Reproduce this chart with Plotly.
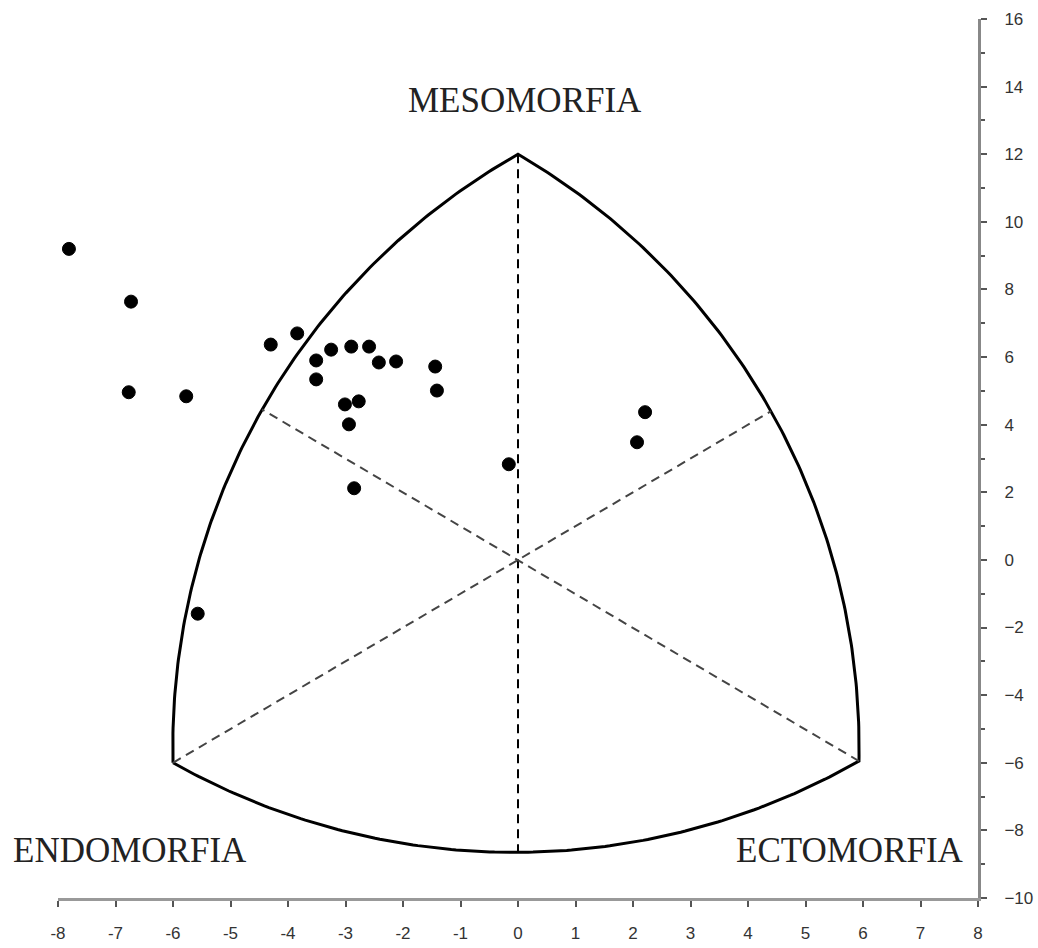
import numpy as np
import plotly.graph_objects as go

# ---- data (somatotype points: X = ecto - endo, Y = 2*meso - (endo + ecto)) ----
x_vals = [-7.81, -6.73, -6.77, -5.77, -4.30, -3.84, -3.51, -3.51, -3.25, -2.90,
          -2.59, -2.42, -2.12, -3.01, -2.77, -2.94, -2.85, -1.44, -1.41, -0.16,
          2.07, 2.21, -5.57]
y_vals = [9.20, 7.64, 4.96, 4.84, 6.37, 6.70, 5.90, 5.34, 6.22, 6.31,
          6.31, 5.84, 5.87, 4.60, 4.69, 4.01, 2.12, 5.72, 5.01, 2.83,
          3.48, 4.37, -1.59]

x_ticks = list(range(-8, 9))
y_ticks = list(range(-10, 17, 2))

# ---- somatochart frame ----
MESO = (0.0, 12.0)
ENDO = (-6.0, -6.0)
ECTO = (5.93, -5.95)
LEFT_MID = (-4.45, 4.45)
RIGHT_MID = (4.4, 4.4)
BOTTOM_MID = (0.0, -8.65)
labels = ["MESOMORFIA", "ENDOMORFIA", "ECTOMORFIA"]
label_pos = [(0.12, 13.6), (-6.75, -8.6), (5.77, -8.6)]

SX, SY = 57.5, 33.8  # px per unit (aspect used for circular arcs)


def arc(p0, pm, p1, n=150):
    P = np.array([p0, pm, p1], float) * [SX, SY]
    (x1, y1), (x2, y2), (x3, y3) = P
    d = 2 * (x1 * (y2 - y3) + x2 * (y3 - y1) + x3 * (y1 - y2))
    ux = ((x1**2 + y1**2) * (y2 - y3) + (x2**2 + y2**2) * (y3 - y1) + (x3**2 + y3**2) * (y1 - y2)) / d
    uy = ((x1**2 + y1**2) * (x3 - x2) + (x2**2 + y2**2) * (x1 - x3) + (x3**2 + y3**2) * (x2 - x1)) / d
    r = np.hypot(x1 - ux, y1 - uy)
    a0 = np.arctan2(y1 - uy, x1 - ux)
    am = np.arctan2(y2 - uy, x2 - ux)
    a1 = np.arctan2(y3 - uy, x3 - ux)
    am = a0 + (am - a0) % (2 * np.pi)
    a1 = a0 + (a1 - a0) % (2 * np.pi)
    if am > a1:
        a1 -= 2 * np.pi
    t = np.linspace(a0, a1, n)
    return (ux + r * np.cos(t)) / SX, (uy + r * np.sin(t)) / SY


lx, ly = arc(ENDO, LEFT_MID, MESO)
rx, ry = arc(MESO, RIGHT_MID, ECTO)
bx, by = arc(ECTO, BOTTOM_MID, ENDO)
fx = np.concatenate([lx, rx, bx])
fy = np.concatenate([ly, ry, by])

fig = go.Figure()

fig.add_trace(go.Scatter(x=fx, y=fy, mode="lines",
                         line=dict(color="black", width=3), hoverinfo="skip",
                         showlegend=False))
# dashed axes of the somatochart
fig.add_trace(go.Scatter(x=[MESO[0], BOTTOM_MID[0]], y=[MESO[1], BOTTOM_MID[1]], mode="lines",
                         line=dict(color="black", width=2, dash="9px,6px"),
                         hoverinfo="skip", showlegend=False))
fig.add_trace(go.Scatter(x=[ENDO[0], RIGHT_MID[0]], y=[ENDO[1], RIGHT_MID[1]], mode="lines",
                         line=dict(color="#444444", width=2, dash="9px,6px"),
                         hoverinfo="skip", showlegend=False))
fig.add_trace(go.Scatter(x=[ECTO[0], LEFT_MID[0]], y=[ECTO[1], LEFT_MID[1]], mode="lines",
                         line=dict(color="#444444", width=2, dash="9px,6px"),
                         hoverinfo="skip", showlegend=False))

fig.add_trace(go.Scatter(x=x_vals, y=y_vals, mode="markers",
                         marker=dict(color="black", size=13, line=dict(color="black", width=1)),
                         showlegend=False))

for txt, (tx, ty) in zip(labels, label_pos):
    fig.add_annotation(x=tx, y=ty, text=txt, showarrow=False,
                       font=dict(family="Liberation Serif", size=35, color="#222222"))

fig.update_xaxes(range=[-8, 8], tickvals=x_ticks, ticktext=[str(v) for v in x_ticks],
                 showline=True, linecolor="#999999", linewidth=3,
                 ticks="outside", ticklen=6, tickwidth=1.5, tickcolor="#555555",
                 ticklabelstandoff=12, automargin=False,
                 showgrid=False, zeroline=False,
                 tickfont=dict(family="Arial, Liberation Sans", size=17, color="#333333"))
fig.update_yaxes(range=[-10, 16], side="right", tickvals=y_ticks,
                 showline=True, linecolor="#888888", linewidth=3,
                 ticks="outside", ticklen=6, tickwidth=1.5, tickcolor="#555555",
                 minor=dict(dtick=1, ticks="outside", ticklen=4, tickcolor="#555555"),
                 ticklabelstandoff=14, automargin=False,
                 showgrid=False, zeroline=False,
                 tickfont=dict(family="Arial, Liberation Sans", size=17, color="#333333"))

fig.update_layout(width=1038, height=948,
                  margin=dict(l=58, r=60, t=19, b=50),
                  plot_bgcolor="white", paper_bgcolor="white")

fig.write_html("out.html")
